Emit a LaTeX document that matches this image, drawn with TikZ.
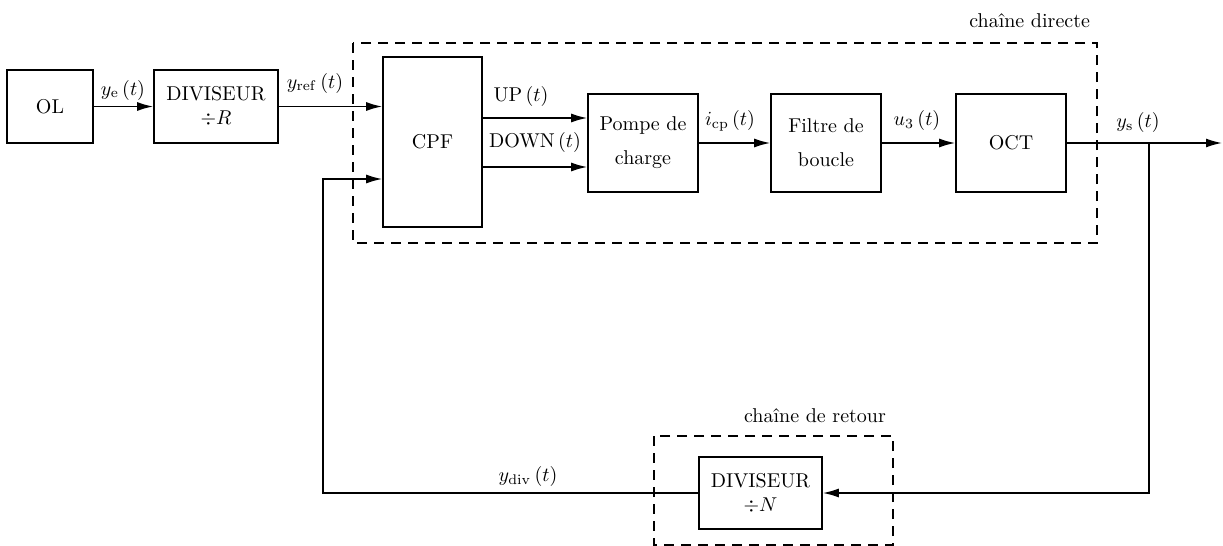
\documentclass[tikz,border=0pt]{standalone}
\usepackage{amsmath,amssymb}
\usetikzlibrary{calc,arrows.meta}

\begin{document}
\begin{tikzpicture}[x=0.5pt,y=-0.5pt,
  bloc/.style={draw,line width=0.8pt,align=center,inner sep=2pt},
  sig/.style={line width=0.8pt,-{Latex[length=8pt,width=4.5pt]}},
  fil/.style={line width=0.8pt},
  cadre/.style={line width=0.8pt,dash pattern=on 5pt off 3.5pt}]
 \useasboundingbox (0,0) rectangle (1223,546);
 % cadres en pointilles
 \draw[cadre] (353,43) rectangle (1097,243);
 \draw[cadre] (654,436) rectangle (893,545);
 \node[anchor=base east] (tdir) at (1097,27) {cha\^ine directe};
 \node[anchor=base east] (tret) at (893,422) {cha\^ine de retour};
 % blocs
 \node[bloc,minimum width=43pt,minimum height=36.5pt] (OL) at (50,106.5) {OL};
 \node[bloc,minimum width=62pt,minimum height=36.5pt] (divR) at (216,106.5) {DIVISEUR\\$\div R$};
 \node[bloc,minimum width=49.5pt,minimum height=85pt] (CPF) at (432.5,142) {CPF};
 \node[bloc,minimum width=55pt,minimum height=49pt] (pompe) at (643,143) {Pompe de\\[5pt]charge};
 \node[bloc,minimum width=55pt,minimum height=49pt] (filtre) at (826,143) {Filtre de\\[5pt]boucle};
 \node[bloc,minimum width=55pt,minimum height=49pt] (OCT) at (1011,143) {OCT};
 \node[bloc,minimum width=61.5pt,minimum height=36pt] (divN) at (760.5,493) {DIVISEUR\\$\div N$};
 % points de passage
 \coordinate (upin) at ($(pompe.west)+(0,-25)$);
 \coordinate (dnin) at ($(pompe.west)+(0,24)$);
 \coordinate (fbin) at ($(CPF.west)+(0,37)$);
 \coordinate (br) at (1149,143);
 \coordinate (out) at (1222,143);
 \coordinate (fb) at (323,493);
 % liaisons
 \draw[sig] (OL.east) -- (divR.west);
 \draw[sig] (divR.east) -- (divR.east -| CPF.west);
 \draw[sig] (CPF.east |- upin) -- (upin);
 \draw[sig] (CPF.east |- dnin) -- (dnin);
 \draw[sig] (pompe.east) -- (filtre.west);
 \draw[sig] (filtre.east) -- (OCT.west);
 \draw[sig] (OCT.east) -- (out);
 \draw[sig] (br) |- (divN.east);
 \draw[sig] (divN.west) -- (fb) |- (fbin);
 % etiquettes
 \node (ye) at (123,90) {$y_{\mathrm{e}}\,(t)$};
 \node (yref) at (315,83) {$y_{\mathrm{ref}}\,(t)$};
 \node (up) at (521,96) {UP$\,(t)$};
 \node (down) at (535,143) {DOWN$\,(t)$};
 \node (icp) at (730,121) {$i_{\mathrm{cp}}\,(t)$};
 \node (u3) at (917,121) {$u_3\,(t)$};
 \node (ys) at (1138,122) {$y_{\mathrm{s}}\,(t)$};
 \node (ydiv) at (528,476) {$y_{\mathrm{div}}\,(t)$};
\end{tikzpicture}
\end{document}
